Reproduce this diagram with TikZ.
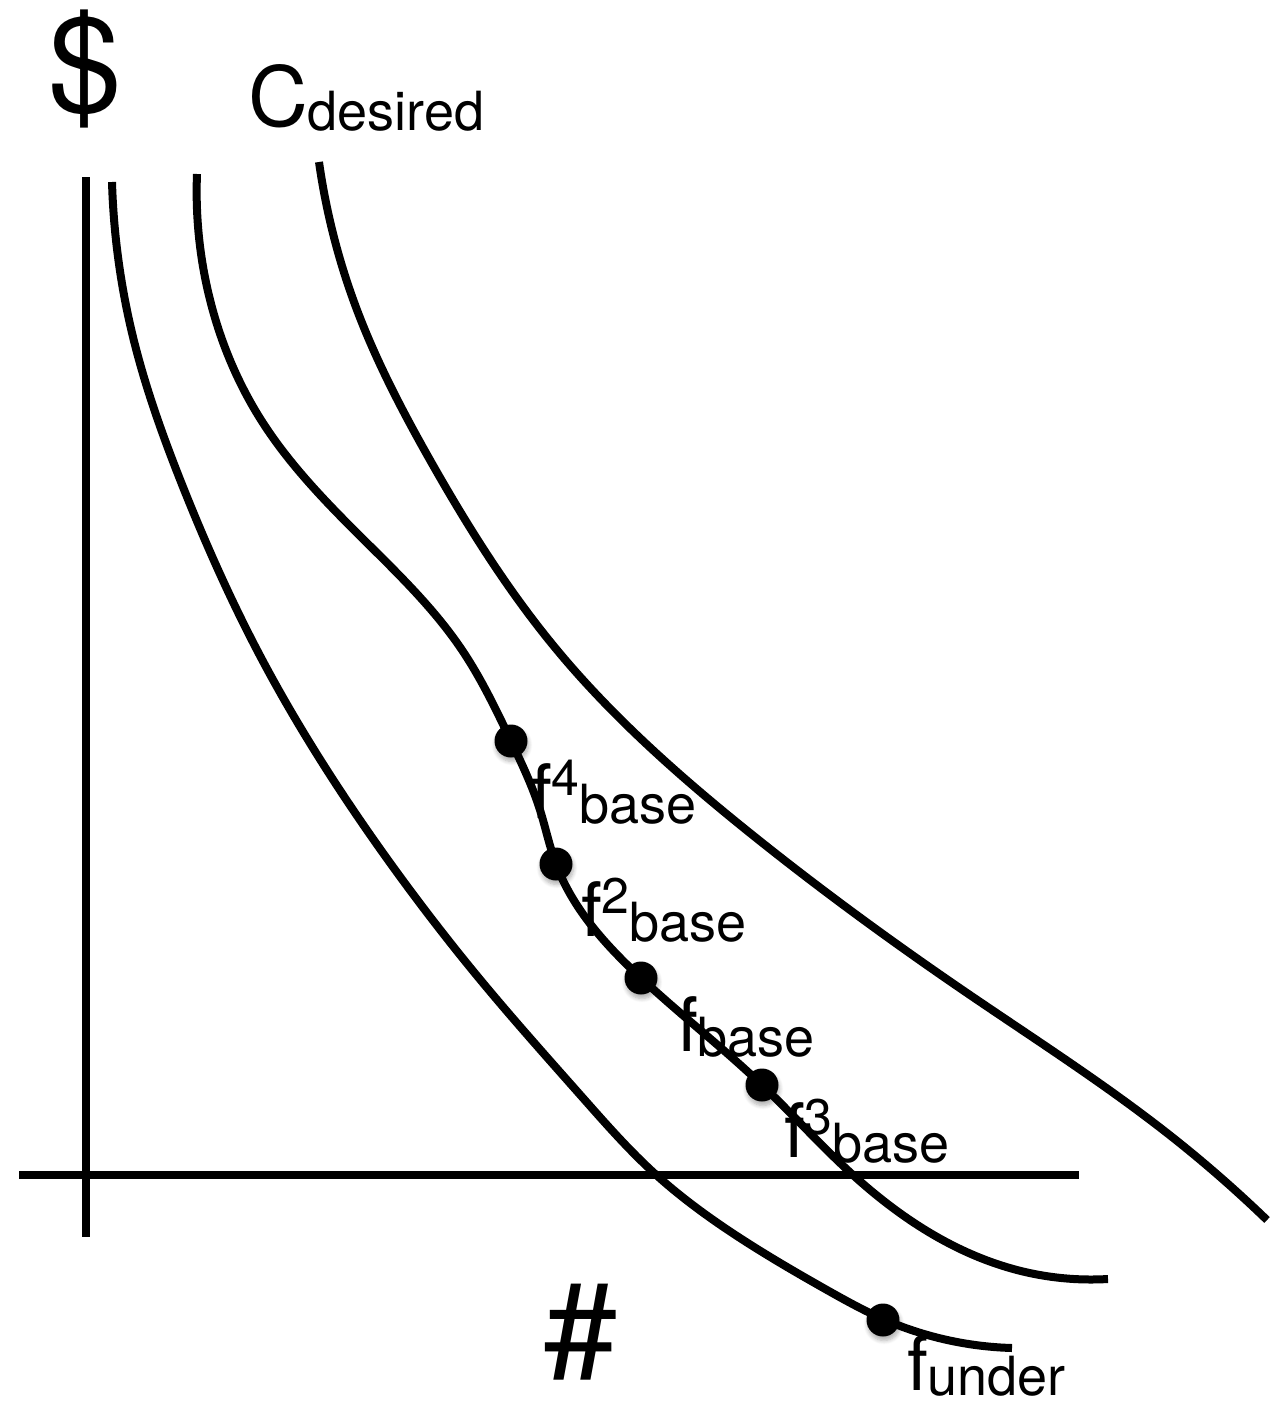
\documentclass[tikz,border=0pt]{standalone}
\usepackage{fontspec}
\setmainfont{TeX Gyre Heros}
\usetikzlibrary{shadows.blur,hobby}
\newcommand\flbl[2]{{\fontsize{75}{80}\selectfont f}\raisebox{23pt}{\fontsize{50}{54}\selectfont #1}\raisebox{-5pt}{\fontsize{54}{58}\selectfont #2}}
\tikzset{
  curveline/.style={line width=8pt, black, use Hobby shortcut},
  axisline/.style={line width=8pt, black},
  dotpt/.style={circle, fill=black, inner sep=0pt, minimum size=33pt,
    blur shadow={shadow xshift=1pt, shadow yshift=-4pt, shadow blur radius=4pt, shadow blur steps=6, shadow opacity=30}},
  lbl/.style={anchor=base west, inner sep=0pt, outer sep=0pt}
}
\begin{document}
\begin{tikzpicture}[x=1pt,y=-1pt]
\useasboundingbox (0,0) rectangle (1281,1413);
% axes
\coordinate (ytop) at (86,177);
\coordinate (ybot) at (86,1237);
\coordinate (xl) at (19,1175);
\coordinate (xr) at (1079,1175);
\draw[axisline] (ytop) -- (ybot);
\draw[axisline] (xl) -- (xr);
% curve 1 (f under)
\draw[curveline] (112,182) .. (133,337) .. (183,487) .. (257,650) .. (383,853)
 .. (483,983) .. (583,1098) .. (653,1172) .. (740,1238) .. (827,1290) .. (883,1319) .. (1012,1348);
% curve 2 (f base)
\draw[curveline] (197,174) .. (207,287) .. (263,423) .. (357,533) .. (462,650)
 .. (511,741) .. (540,810) .. (556,864) .. (641,978) .. (762,1085) .. (853,1175) .. (1017,1270) .. (1108,1279);
% curve 3 (C desired)
\draw[curveline] (319,162) .. (357,310) .. (430,460) .. (557,650) .. (750,833)
 .. (967,993) .. (1167,1133) .. (1267,1220);
% dots
\node[dotpt] (d4) at (511,741) {};
\node[dotpt] (d2) at (556,864) {};
\node[dotpt] (d1) at (641,978) {};
\node[dotpt] (d3) at (762,1085) {};
\node[dotpt] (du) at (883,1320) {};
% labels
\node[lbl] (dollar) at (48,111) {\fontsize{132}{140}\selectfont \$};
\node[lbl] (hash) at (543,1377) {\fontsize{134}{140}\selectfont \#};
\node[lbl] (cdes) at (248,126) {{\fontsize{83}{90}\selectfont C}\raisebox{-4pt}{\fontsize{54}{58}\selectfont desired}};
\node[lbl] (l4) at (531,818) {\flbl{4}{base}};
\node[lbl] (l2) at (581,936) {\flbl{2}{base}};
\node[lbl] (l1) at (677,1051) {\flbl{}{base}};
\node[lbl] (l3) at (784,1157) {\flbl{3}{base}};
\node[lbl] (lu) at (907,1390) {\flbl{}{under}};
\end{tikzpicture}
\end{document}
